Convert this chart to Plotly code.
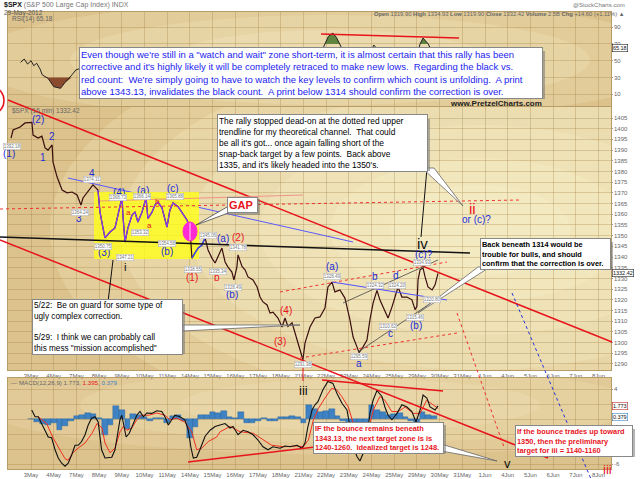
import numpy as np
import plotly.graph_objects as go

W, H = 640, 479

# trading days on the x axis (index 0 = 3 May 2012)
DAY_LABELS = ["3May", "4May", "7May", "8May", "9May", "10May", "11May", "14May", "15May",
              "16May", "17May", "18May", "21May", "22May", "23May", "24May", "25May",
              "29May", "30May", "31May", "1Jun", "4Jun", "5Jun", "6Jun", "7Jun", "8Jun"]

# $SPX 15 min (t = trading days since the 3 May open)
PRICE_T = [-0.88, -0.79, -0.48, -0.26, 0.04, 0.09, 0.31, 0.48, 0.62, 0.75, 0.93, 0.97, 1.15,
           1.37, 1.59, 1.81, 2.03, 2.20, 2.29, 2.51, 2.73, 2.95, 3.04, 3.17, 3.26, 3.48, 3.70,
           3.83, 4.01, 4.05, 4.14, 4.27, 4.45, 4.58, 4.71, 4.89, 5.07, 5.15, 5.33, 5.46, 5.59,
           5.77, 5.99, 6.12, 6.26, 6.48, 6.65, 6.87, 7.00, 7.05, 7.09, 7.22, 7.36, 7.53, 7.67,
           7.80, 7.97, 8.11, 8.24, 8.41, 8.55, 8.68, 8.85, 8.94, 9.07, 9.12, 9.30, 9.43, 9.56,
           9.78, 9.96, 10.09, 10.22, 10.40, 10.53, 10.66, 10.88, 11.06, 11.19, 11.32, 11.50,
           11.63, 11.76, 11.94, 11.98, 12.07, 12.29, 12.51, 12.73, 12.95, 13.08, 13.26, 13.39,
           13.61, 13.83, 14.05, 14.19, 14.36, 14.45, 14.63, 14.80, 14.93, 15.07, 15.24, 15.37,
           15.51, 15.73, 15.90, 16.04, 16.17, 16.34, 16.56, 16.78, 16.92, 17.00, 17.05, 17.14,
           17.27, 17.36, 17.49, 17.67, 17.80, 17.93]
PRICE = [1395.6, 1399.4, 1400.8, 1402.7, 1403.0, 1397.0, 1395.6, 1396.5, 1391.0, 1390.0, 1392.4,
         1384.4, 1377.4, 1371.3, 1370.0, 1370.4, 1369.0, 1364.3, 1367.6, 1370.4, 1373.7, 1371.3,
         1361.0, 1353.6, 1349.0, 1351.7, 1353.6, 1359.6, 1368.0, 1359.6, 1347.0, 1353.6, 1359.6,
         1361.0, 1356.4, 1361.0, 1367.6, 1358.0, 1361.0, 1364.3, 1365.7, 1363.0, 1354.0, 1362.0,
         1365.3, 1363.5, 1360.6, 1357.3, 1354.0, 1344.7, 1339.5, 1341.9, 1344.2, 1345.6, 1349.0,
         1343.3, 1339.5, 1337.2, 1340.0, 1344.2, 1337.7, 1335.3, 1333.0, 1329.3, 1335.3, 1341.0,
         1335.5, 1334.0, 1330.7, 1329.3, 1326.0, 1321.3, 1319.0, 1317.6, 1313.8, 1314.2, 1311.5,
         1307.3, 1311.5, 1307.5, 1309.2, 1304.5, 1299.8, 1294.2, 1292.0, 1299.8, 1307.3, 1311.5,
         1312.0, 1316.2, 1326.0, 1328.3, 1323.7, 1324.6, 1320.8, 1310.6, 1302.6, 1298.0, 1295.3,
         1298.0, 1301.2, 1310.6, 1318.5, 1324.4, 1320.0, 1316.6, 1311.5, 1316.6, 1321.3, 1326.0,
         1321.3, 1321.3, 1320.0, 1315.4, 1317.0, 1329.3, 1334.0, 1334.9, 1330.7, 1326.0, 1324.6,
         1327.0, 1332.4]

# RSI(14)
RSI_T = [-0.46, -0.3, -0.15, 0.0, 0.12, 0.25, 0.4, 0.5, 0.75, 1.0, 1.3, 1.5, 1.8, 1.98, 2.3,
         2.7, 3.1, 3.3, 3.7, 4.0, 4.15, 4.5, 5.07, 5.5, 6.0, 6.3, 6.9, 7.1, 7.5, 7.7, 8.1, 8.4,
         8.9, 9.1, 9.5, 10.0, 10.5, 11.06, 11.2, 11.7, 12.0, 12.3, 12.7, 12.95, 13.1, 13.3,
         13.45, 13.6, 13.8, 14.05, 14.45, 14.9, 15.1, 15.37, 15.73, 16.17, 16.5, 16.92, 17.05,
         17.14, 17.27, 17.5, 17.67, 17.93]
RSI = [48, 52, 46, 50, 44, 47, 40, 33, 29, 19, 17, 24, 33, 39, 42, 52, 30, 26, 38, 55, 32, 48,
       58, 52, 40, 55, 45, 25, 38, 48, 35, 48, 32, 50, 38, 32, 26, 22, 38, 28, 18, 42, 55, 70,
       79, 83, 78, 70, 58, 40, 32, 55, 68.7, 60, 45, 62, 58, 48, 62, 70, 77, 70, 60, 65.18]

# MACD(12,26,9)
MACD_T = [0.03, 0.18, 0.32, 0.47, 0.62, 0.76, 0.91, 1.06, 1.20, 1.35, 1.50, 1.64, 1.79, 1.94,
          2.08, 2.23, 2.38, 2.52, 2.67, 2.82, 2.96, 3.04, 3.11, 3.26, 3.41, 3.56, 3.70, 3.80,
          3.92, 4.00, 4.10, 4.19, 4.33, 4.48, 4.66, 4.80, 4.95, 5.10, 5.32, 5.54, 5.76, 5.90,
          6.05, 6.20, 6.34, 6.56, 6.78, 6.93, 7.04, 7.15, 7.30, 7.44, 7.67, 7.89, 8.11, 8.33,
          8.55, 8.77, 8.90, 9.12, 9.34, 9.56, 9.78, 10.00, 10.22, 10.44, 10.66, 10.97, 11.19,
          11.41, 11.72, 11.94, 12.07, 12.20, 12.38, 12.51, 12.64, 12.86, 13.08, 13.30, 13.48,
          13.70, 13.92, 14.05, 14.19, 14.36, 14.49, 14.63, 14.80, 14.93, 15.07, 15.24, 15.46,
          15.59, 15.73, 15.90, 16.12, 16.34, 16.56, 16.78, 16.96, 17.14, 17.27, 17.44, 17.58,
          17.80, 17.93]
MACD = [1.2, 0.3, 0.3, -0.6, -1.5, -2.4, -2.5, -4.1, -5.2, -5.9, -6.3, -5.9, -4.8, -3.5, -3.5,
        -3.0, -2.1, -0.8, 0.1, 0.3, -0.4, -2.4, -4.1, -5.2, -5.2, -5.1, -4.1, -2.4, -0.1, 0.5,
        -1.0, -2.4, -1.9, -0.8, 0.5, 1.0, 0.3, 0.8, 0.75, 1.1, 1.0, 0.3, -0.8, -0.1, 0.5, 0.3,
        -0.1, -1.5, -3.7, -5.2, -5.1, -4.1, -2.3, -1.5, -1.0, -0.8, -0.6, -1.2, -1.0, -2.1,
        -1.5, -1.7, -2.1, -2.8, -3.7, -4.1, -3.7, -3.9, -3.6, -3.7, -3.5, -3.9, -3.2, -1.0,
        1.2, 1.9, 2.3, 3.9, 5.0, 4.75, 3.4, 2.1, 1.2, -1.0, -3.7, -5.0, -5.6, -4.6, -2.4, 0.75,
        2.5, 3.8, 3.0, 1.6, 0.5, -0.1, 0.75, 1.9, 1.6, 1.0, -0.4, 1.2, 3.2, 2.8, 1.6, 1.2, 1.77]
SIGNAL_T = [0.31, 0.69, 0.97, 1.28, 1.50, 1.63, 1.85, 2.07, 2.38, 2.69, 2.91, 3.13, 3.26, 3.48,
            3.70, 3.92, 4.07, 4.22, 4.44, 4.66, 4.88, 5.17, 5.54, 5.90, 6.12, 6.42, 6.78, 7.08,
            7.30, 7.52, 7.81, 8.18, 8.33, 8.77, 9.21, 9.79, 10.23, 10.60, 11.11, 11.70, 12.00,
            12.22, 12.44, 12.66, 12.95, 13.25, 13.47, 13.69, 13.98, 14.20, 14.42, 14.64, 14.86,
            15.08, 15.37, 15.59, 15.89, 16.18, 16.48, 16.84, 17.14, 17.43, 17.72, 17.94]
SIGNAL = [0.3, -0.6, -2.5, -4.1, -5.3, -5.5, -4.5, -3.9, -3.2, -1.9, -0.6, -1.2, -3.2, -4.5,
          -3.9, -1.7, -1.0, -1.5, -1.2, -0.1, 0.5, 0.5, 0.8, 0.5, -0.1, 0.1, -0.4, -1.7, -4.1,
          -3.9, -3.0, -2.4, -1.7, -1.0, -1.7, -1.9, -2.8, -3.5, -3.7, -3.6, -3.7, -2.8, -0.1,
          1.4, 2.8, 4.1, 3.9, 3.0, 1.6, -0.6, -2.8, -3.5, -1.5, 1.2, 3.0, 2.5, 1.0, 1.0, 1.6,
          0.75, 0.75, 2.5, 1.9, 1.4]
# histogram, one bar per quarter session
HIST = [0.0, -0.4, -0.7, -0.8, -0.5, -1.5, -0.9, -0.2, 0.4, 0.6,
        0.8, 0.7, 0.1, -2.1, -0.8, 1.8, 1.2, -1.3, 0.7, 0.5,
        0.3, -0.3, 0.2, 0.1, -0.5, 0.4, 0.5, -0.3, -2.5, -1.0,
        0.6, 0.5, 0.9, 0.8, 1.1, 0.3, 0.2, 1.0, -0.5, -0.5,
        -0.3, 0.1, -0.2, -0.2, 0.3, 0.3, 0.4, 0.3, -0.5, 1.9,
        1.3, 1.0, 1.1, 1.3, 0.4, -0.3, -0.8, -1.4, -1.0, -0.4,
        1.9, 1.2, 0.9, 0.6, 0.7, 0.8, 0.3, -0.3, -0.5, 1.0,
        0.6, 0.4]
HIST_T = [k / 4 for k in range(len(HIST))]

FONT = "Liberation Sans, Arial, sans-serif"
RED = "#e8141c"
BLUE = "#1c2ed8"
TAN = "#dcc28c"
GRID = "rgba(150,115,55,0.28)"


# pixel helpers for the hand-drawn markup
def px_x(x):
    return x / W


def px_y(y):
    return 1 - y / H


def t_at(x):
    return (x - 31) / 22.7


def price_at(y):
    return 1405 - (y - 118) / 2.139


def rsi_at(y):
    return 50 + (60.7 - y) / 0.8375


def macd_at(y):
    return (419 - y) / 7.5


XD = [px_x(8), px_x(611)]
X_RANGE = [t_at(8), t_at(611)]

fig = go.Figure()

# --- RSI panel ---
n = len(RSI)
fig.add_trace(go.Scatter(x=RSI_T, y=[70] * n, xaxis="x3", yaxis="y3", mode="lines",
                         line=dict(width=0), hoverinfo="skip"))
fig.add_trace(go.Scatter(x=RSI_T, y=np.maximum(RSI, 70), xaxis="x3", yaxis="y3", mode="lines",
                         line=dict(width=0), fill="tonexty", fillcolor="#5e8440"))
fig.add_trace(go.Scatter(x=RSI_T, y=[30] * n, xaxis="x3", yaxis="y3", mode="lines",
                         line=dict(width=0), hoverinfo="skip"))
fig.add_trace(go.Scatter(x=RSI_T, y=np.minimum(RSI, 30), xaxis="x3", yaxis="y3", mode="lines",
                         line=dict(width=0), fill="tonexty", fillcolor="#8a4a2e"))
fig.add_trace(go.Scatter(x=RSI_T, y=RSI, xaxis="x3", yaxis="y3", mode="lines",
                         line=dict(color="#222", width=1)))

# --- price panel ---
fig.add_trace(go.Scatter(x=PRICE_T, y=PRICE, mode="lines", line=dict(color="#3a0e0e", width=1.2)))
box_idx = [i for i, t in enumerate(PRICE_T) if 2.95 <= t <= 7.0]
fig.add_trace(go.Scatter(x=[PRICE_T[i] for i in box_idx], y=[PRICE[i] for i in box_idx],
                         mode="lines", line=dict(color="#8a3cf0", width=1.3)))
gap_idx = [i for i, t in enumerate(PRICE_T) if 7.09 <= t <= 7.67]
fig.add_trace(go.Scatter(x=[PRICE_T[i] for i in gap_idx], y=[PRICE[i] for i in gap_idx],
                         mode="lines", line=dict(color="#3a4cff", width=1.3)))

# --- MACD panel ---
fig.add_trace(go.Bar(x=HIST_T, y=HIST, width=0.25, xaxis="x2", yaxis="y2",
                     marker=dict(color="#3f82c4", line=dict(color="#1d5d9c", width=0.4))))
fig.add_trace(go.Scatter(x=SIGNAL_T, y=SIGNAL, xaxis="x2", yaxis="y2", mode="lines",
                         line=dict(color="#f03020", width=1)))
fig.add_trace(go.Scatter(x=MACD_T, y=MACD, xaxis="x2", yaxis="y2", mode="lines",
                         line=dict(color="#111", width=1.1)))

shapes = []

# parchment-style glow in each panel
for rx, ry in [(430, 210), (360, 175), (290, 140), (220, 105), (150, 72), (90, 45)]:
    shapes.append(dict(type="circle", xref="x", yref="y", layer="below",
                       x0=t_at(480 - rx), x1=t_at(480 + rx),
                       y0=price_at(230 + ry), y1=price_at(230 - ry),
                       fillcolor="#fffbd6", opacity=0.2, line_width=0))
for rx, ry in [(360, 60), (260, 45), (160, 30)]:
    shapes.append(dict(type="circle", xref="x3", yref="y3", layer="below",
                       x0=t_at(330 - rx), x1=t_at(330 + rx),
                       y0=rsi_at(60 + ry), y1=rsi_at(60 - ry),
                       fillcolor="#fffbd6", opacity=0.18, line_width=0))
for rx, ry in [(380, 50), (280, 38), (180, 26)]:
    shapes.append(dict(type="circle", xref="x2", yref="y2", layer="below",
                       x0=t_at(360 - rx), x1=t_at(360 + rx),
                       y0=macd_at(405 + ry), y1=macd_at(405 - ry),
                       fillcolor="#fffbd6", opacity=0.15, line_width=0))

# blue trendline under the yellow highlight, both under the price line
shapes.append(dict(type="line", xref="x", yref="y", layer="between",
                   x0=t_at(68), y0=price_at(178), x1=t_at(353), y1=price_at(242),
                   line=dict(color="#5a5aff", width=1)))
shapes.append(dict(type="rect", xref="x", yref="y", layer="between",
                   x0=t_at(94), y0=price_at(259), x1=t_at(199), y1=price_at(192),
                   fillcolor="#ffff1a", opacity=0.8, line_width=0))


def seg(x0, y0, x1, y1, color, width=1.0, dash="solid"):
    shapes.append(dict(type="line", xref="paper", yref="paper", layer="above",
                       x0=px_x(x0), y0=px_y(y0), x1=px_x(x1), y1=px_y(y1),
                       line=dict(color=color, width=width, dash=dash)))


def wedge(pts, fill="white", edge="#666"):
    path = "M " + " L ".join(f"{px_x(x):.5f},{px_y(y):.5f}" for x, y in pts) + " Z"
    shapes.append(dict(type="path", xref="paper", yref="paper", layer="above", path=path,
                       fillcolor=fill, line=dict(color=edge, width=0.8)))


seg(8, 100, 612, 342, RED, 1.5)
seg(0, 240, 548, 458, RED, 1.5)
seg(0, 237, 470, 253, "#111", 1.5)
seg(0, 209, 520, 200, "#f03030", 1, "dot")
seg(100, 201, 303, 195, "#f08080", 0.8)
seg(280, 292, 447, 262, "#f03030", 1, "dot")
seg(300, 358, 457, 333, "#f03030", 1, "dot")
seg(457, 313, 504, 447, "#f03030", 1, "dot")
seg(512, 293, 591, 479, "#2030e0", 1, "dot")
seg(343, 303, 438, 260, "#444", 0.8)
seg(358, 352, 468, 278, "#444", 0.8)
seg(332, 282, 447, 300, "#5050ff", 1)
seg(188, 462, 315, 447, RED, 1.5)
seg(322, 380, 443, 391, RED, 1.5)
seg(321, 34, 459, 38, RED, 1.5)
seg(113, 260, 108, 302, "#111", 1)
seg(427, 168, 421, 237, "#111", 1)
seg(303, 366, 303, 381, RED, 1)
shapes.append(dict(type="circle", xref="paper", yref="paper", layer="above",
                   x0=px_x(-16), x1=px_x(4), y0=px_y(113), y1=px_y(88),
                   line=dict(color=RED, width=1.5)))

# magenta gap marker
shapes.append(dict(type="circle", xref="paper", yref="paper", layer="above",
                   x0=px_x(183), x1=px_x(197), y0=px_y(241), y1=px_y(222),
                   fillcolor="#ff2ad4", line=dict(color="#ff2ad4", width=1)))
seg(190, 223, 190, 240, "white", 0.8)

# callout pointers
wedge([(422, 168), (434, 168), (463, 206)])
wedge([(478, 267), (490, 267), (418, 313)])
wedge([(183, 325), (183, 331), (300, 325)])
wedge([(441, 444), (441, 451), (497, 461)])
wedge([(227, 207), (231, 212), (196, 225)], edge="#444")

annotations = []


def note(x, y, text, color="#000", size=9, xanchor="center", yanchor="middle", **kw):
    annotations.append(dict(x=px_x(x), y=px_y(y), xref="paper", yref="paper", text=text,
                            showarrow=False, xanchor=xanchor, yanchor=yanchor,
                            font=dict(family=FONT, size=size, color=color), **kw))


def textbox(x, y, w, h, text, color="#000", size=9):
    shapes.append(dict(type="rect", xref="paper", yref="paper", layer="above",
                       x0=px_x(x + 2), x1=px_x(x + w + 2), y0=px_y(y + h + 2), y1=px_y(y + 2),
                       fillcolor="#777", opacity=0.55, line_width=0))
    annotations.append(dict(x=px_x(x), y=px_y(y + h / 2), xref="paper", yref="paper", text=text,
                            showarrow=False, xanchor="left", yanchor="middle", align="left",
                            width=w - 4, bgcolor="white",
                            bordercolor="#888", borderwidth=1, borderpad=1,
                            font=dict(family=FONT, size=size, color=color)))


textbox(79, 49, 464, 48,
        "Even though we're still in a \"watch and wait\" zone short-term, it is almost certain that this rally has been<br>"
        "corrective and it's highly likely it will be completely retraced to make new lows.  Regarding the black vs.<br>"
        "red count:  We're simply going to have to watch the key levels to confirm which count is unfolding.  A print<br>"
        "above 1343.13, invalidates the black count.  A print below 1314 should confirm the correction is over.",
        color="#1c1cf0", size=9.5)
textbox(217, 117, 211, 52,
        "The rally stopped dead-on at the dotted red upper<br>trendline for my theoretical channel.  That could<br>"
        "be all it's got... once again falling short of the<br>snap-back target by a few points.  Back above<br>"
        "1335, and it's likely headed into the 1350's.", size=8.4)
textbox(480, 240, 131, 28,
        "<b>Back beneath 1314 would be<br>trouble for bulls, and should<br>confirm that the correction is over.</b>",
        size=7.4)
textbox(32, 302, 151, 50,
        "5/22:  Be on guard for some type of<br>ugly complex correction.<br><br>"
        "5/29:  I think we can probably call<br>this mess \"mission accomplished\"", size=8.2)
textbox(313, 423, 131, 29,
        "<b>IF the bounce remains beneath<br>1343.13, the next target zone is is<br>"
        "1240-1260.  Idealized target is 1248.</b>", color=RED, size=7.4)
textbox(515, 427, 118, 28,
        "<b>If the bounce trades up toward<br>1350, then the preliminary<br>target for iii = 1140-1160</b>",
        color=RED, size=7.4)
textbox(227, 197, 31, 16, "<b>GAP</b>", color=RED, size=11)

# wave labels
for text, x, y, size in [("(1)", 9, 153, 10), ("(2)", 38, 119, 10), ("2", 52, 137, 10),
                         ("1", 43, 157, 10), ("4", 92, 173, 10), ("3", 79, 218, 10),
                         ("(4)", 119, 192, 10), ("(a)", 143, 191, 10), ("(c)", 173, 188, 10),
                         ("(3)", 104, 252, 10), ("(b)", 167, 251, 10), ("(a)", 223, 238, 10),
                         ("(b)", 232, 294, 10), ("(a)", 332, 266, 10), ("b", 375, 276, 10),
                         ("d", 396, 275, 10), ("(c)?", 424, 254, 10), ("c", 390, 333, 10),
                         ("(b)", 416, 325, 10), ("a", 359, 363, 10), ("or (c)?", 476, 219, 10)]:
    note(x, y, text, BLUE, size)
for text, x, y, size in [("a", 128, 212, 8), ("a", 149, 225, 8), ("c", 143, 233, 8),
                         ("b", 157, 202, 8), ("a", 207, 236, 8), ("(1)", 192, 277, 10),
                         ("b", 217, 277, 10), ("(2)", 238, 237, 10), ("(4)", 286, 310, 10),
                         ("(3)", 280, 341, 10), ("ii", 472, 208, 15), ("iii", 607, 469, 13)]:
    note(x, y, text, RED, size)
for text, x, y, size in [("i", 125, 267, 11), ("iii", 303, 390, 13), ("iv", 422, 243, 15),
                         ("v", 507, 463, 13)]:
    note(x, y, text, "#111", size)

# price tags at the pivots
for text, x, y in [("1392.18", 12, 146), ("1374.31", 92, 179), ("1364.24", 80, 212),
                   ("1368.73", 118, 197), ("1366.14", 142, 196), ("1365.88", 175, 196),
                   ("1350.75", 103, 246), ("1347.21", 125, 257), ("1353.32", 140, 232),
                   ("1354.58", 167, 243), ("1338.55", 193, 269), ("1345.06", 208, 235),
                   ("1341.78", 238, 247), ("1335.34", 218, 271), ("1328.49", 233, 287),
                   ("1291.98", 303, 364), ("1328.49", 332, 276), ("1324.32", 375, 285),
                   ("1324.20", 397, 285), ("1334.93", 422, 262), ("1310.62", 388, 326),
                   ("1315.46", 415, 317), ("1295.59", 359, 356), ("1320.80", 432, 299)]:
    note(x, y, text, "#777", 4.5, bgcolor="white", bordercolor="#aaa", borderwidth=0.5,
         borderpad=0.3)

# chart furniture
note(2, 5, "<b>$SPX</b> <span style='color:#777'>(S&P 500 Large Cap Index) INDX</span>",
     "#111", 7, xanchor="left")
note(2, 13, "29-May-2012", "#555", 6.5, xanchor="left")
note(627, 5, "@StockCharts.com", "#777", 6, xanchor="right")
note(627, 14, "<b>Open</b> 1319.90 <b>High</b> 1334.93 <b>Low</b> 1319.90 <b>Close</b> 1332.42 "
     "<b>Volume</b> 2.5B <b>Chg</b> +14.60 (+1.11%) ▲", "#666", 5.8, xanchor="right")
note(10, 19, "RSI(14) 65.18", "#666", 6.5, xanchor="left")
note(10, 111, "$SPX (15 min) 1332.42", "#666", 6.5, xanchor="left")
note(9, 382, "— MACD(12,26,9) 1.773, <span style='color:#e8141c'>1.395</span>, "
     "<span style='color:#3f82c4'>0.379</span>", "#666", 6.2, xanchor="left")
note(448, 103, "<b>www.PretzelCharts.com</b>", "#222", 8, xanchor="left")
note(612, 273, "1332.42", "#111", 5.5, xanchor="left", bgcolor="white", bordercolor="#222",
     borderwidth=0.6, borderpad=0.3)
note(612, 48, "65.18", "#111", 5.5, xanchor="left", bgcolor="white", bordercolor="#222",
     borderwidth=0.6, borderpad=0.3)
note(612, 406, "1.773", "#111", 5.5, xanchor="left", bgcolor="white", bordercolor="#c03030",
     borderwidth=0.6, borderpad=0.3)
note(612, 417, "0.379", "#111", 5.5, xanchor="left", bgcolor="white", bordercolor="#3f82c4",
     borderwidth=0.6, borderpad=0.3)

tick_font = dict(family=FONT, size=6, color="#666")
common_x = dict(range=X_RANGE, tickvals=list(range(len(DAY_LABELS))), ticktext=DAY_LABELS,
                showgrid=True, gridcolor=GRID, gridwidth=0.6, zeroline=False, ticks="",
                tickfont=tick_font, showline=True, linecolor="#b89c68", linewidth=0.6,
                mirror=True, domain=XD)
common_y = dict(side="right", showgrid=True, gridcolor=GRID, gridwidth=0.6, zeroline=False,
                tickfont=tick_font, ticks="outside", ticklen=1, tickcolor="#999",
                showline=True, linecolor="#b89c68", linewidth=0.6, mirror=True)

fig.update_layout(
    width=W, height=H, margin=dict(l=0, r=0, t=0, b=0),
    paper_bgcolor="white", plot_bgcolor=TAN, showlegend=False, bargap=0,
    font=dict(family=FONT),
    xaxis=dict(common_x, anchor="y"),
    xaxis2=dict(common_x, anchor="y2"),
    xaxis3=dict(common_x, anchor="y3", showticklabels=False),
    yaxis=dict(common_y, domain=[px_y(370), px_y(107)], range=[price_at(370), price_at(107)],
               tickvals=list(range(1290, 1410, 5)), anchor="x"),
    yaxis2=dict(common_y, domain=[px_y(469), px_y(378)], range=[macd_at(469), macd_at(378)],
                tickvals=[-6, -4, -2, 0, 2, 4], ticktext=["-6", "", "", "", "", "4"], anchor="x2"),
    yaxis3=dict(common_y, domain=[px_y(106), px_y(12)], range=[rsi_at(106), rsi_at(12)],
                tickvals=[10, 30, 50, 70, 90], anchor="x3"),
    shapes=shapes, annotations=annotations,
)

# the page body has a default 8px margin; drop it so the 640x479 figure fills the window
fig.write_html("out.html", config={"displayModeBar": False},
               post_script="document.body.style.margin = '0';")
